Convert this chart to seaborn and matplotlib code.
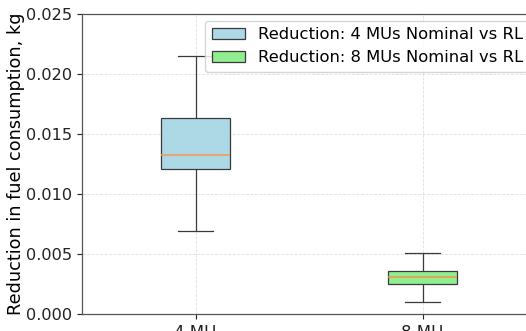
import pandas as pd
import matplotlib
matplotlib.use("Agg")
import matplotlib.pyplot as plt
import seaborn as sns

# five-number summaries (min, q1, median, q3, max)
groups = ["4 MU", "8 MU"]
labels = ["Reduction: 4 MUs Nominal vs RL", "Reduction: 8 MUs Nominal vs RL"]
vals_4mu = [0.00692, 0.01211, 0.01322, 0.01631, 0.02150]
vals_8mu = [0.00097, 0.00250, 0.00311, 0.00361, 0.00506]
colors = ["lightblue", "lightgreen"]

data = pd.DataFrame({
    "group": [groups[0]] * len(vals_4mu) + [groups[1]] * len(vals_8mu),
    "label": [labels[0]] * len(vals_4mu) + [labels[1]] * len(vals_8mu),
    "value": vals_4mu + vals_8mu,
})

plt.rcParams["font.size"] = 12

fig = plt.figure(figsize=(5.26, 3.31), dpi=100)
ax = fig.add_axes([82 / 526, 17 / 331, 454 / 526, 300 / 331])

sns.boxplot(
    data=data, x="group", y="value", hue="label",
    palette=colors, saturation=1, dodge=False, width=0.3, whis=1.5,
    linecolor="#3a3a3a", linewidth=0.9,
    medianprops={"color": "#f5964a", "linewidth": 1.1},
    ax=ax,
)

ax.set_xlim(-0.5, 1.5)
ax.set_ylim(0, 0.025)
ax.set_xlabel("")
ax.set_ylabel("Reduction in fuel consumption, kg", fontsize=12.7, labelpad=1)
ax.grid(True, linestyle="--", color="#d8d8d8", linewidth=0.6, alpha=0.8)
ax.set_axisbelow(True)
for s in ax.spines.values():
    s.set_color("#555555")
    s.set_linewidth(0.9)
ax.tick_params(colors="#222222", labelsize=11.6)
ax.tick_params(axis="x", labelsize=12)
ax.legend(loc="upper right", framealpha=0.8, fontsize=11.8,
          handlelength=2.0, handleheight=0.6, borderaxespad=0.4)

fig.savefig("out.png", dpi=100)
